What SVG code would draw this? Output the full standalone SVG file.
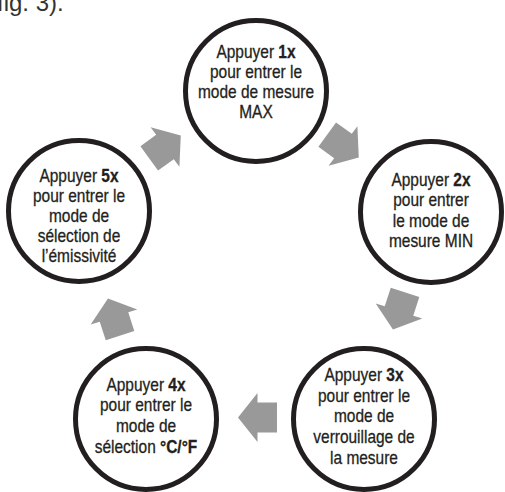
<svg xmlns="http://www.w3.org/2000/svg" xmlns:xlink="http://www.w3.org/1999/xlink" width="505" height="492" viewBox="0 0 505 492">
<style>
  .ring { fill: #ffffff; stroke: #231f20; stroke-width: 5; }
  .lbl { font-family: "Liberation Sans", Arial, sans-serif; font-size: 18px; fill: #231f20; stroke: #231f20; stroke-width: 0.3; text-anchor: middle; }
  .b { font-weight: bold; }
  .arr { fill: #999999; }
  .cap { font-family: "Liberation Sans", Arial, sans-serif; font-size: 24px; fill: #333333; }
</style>
<defs>
  <path id="arrow" d="M-19.5,-15 L0,-15 L0,-24.5 L19.5,0 L0,24.5 L0,15 L-19.5,15 Z"/>
</defs>
<rect width="505" height="492" fill="#ffffff"/>
<text class="cap" x="-3" y="10.5">fig. 3).</text>

<g id="connectors" class="arr">
  <use xlink:href="#arrow" transform="translate(343,146) rotate(36)"/>
  <use xlink:href="#arrow" transform="translate(399,311) rotate(108)"/>
  <use xlink:href="#arrow" transform="translate(257.5,417.5) rotate(180)"/>
  <use xlink:href="#arrow" transform="translate(114,317) rotate(252)"/>
  <use xlink:href="#arrow" transform="translate(165,147) rotate(-36)"/>
</g>

<g id="node1" transform="translate(256,91)">
  <circle class="ring" r="70.5"/>
  <g transform="scale(0.86,1)">
    <text class="lbl" y="-33.5">Appuyer <tspan class="b">1x</tspan></text>
    <text class="lbl" y="-13.3">pour entrer le</text>
    <text class="lbl" y="6.9">mode de mesure</text>
    <text class="lbl" y="27.1">MAX</text>
  </g>
</g>

<g id="node2" transform="translate(431,212)">
  <circle class="ring" r="70.5"/>
  <g transform="scale(0.86,1)">
    <text class="lbl" y="-26.5">Appuyer <tspan class="b">2x</tspan></text>
    <text class="lbl" y="-6">pour entrer</text>
    <text class="lbl" y="14.5">le mode de</text>
    <text class="lbl" y="35">mesure MIN</text>
  </g>
</g>

<g id="node3" transform="translate(364,419)">
  <circle class="ring" r="70.5"/>
  <g transform="scale(0.86,1)">
    <text class="lbl" y="-38">Appuyer <tspan class="b">3x</tspan></text>
    <text class="lbl" y="-17.3">pour entrer le</text>
    <text class="lbl" y="3.4">mode de</text>
    <text class="lbl" y="24.1">verrouillage de</text>
    <text class="lbl" y="44.8">la mesure</text>
  </g>
</g>

<g id="node4" transform="translate(146,419)">
  <circle class="ring" r="70.5"/>
  <g transform="scale(0.86,1)">
    <text class="lbl" y="-28.5">Appuyer <tspan class="b">4x</tspan></text>
    <text class="lbl" y="-7.8">pour entrer le</text>
    <text class="lbl" y="12.9">mode de</text>
    <text class="lbl" y="34">sélection <tspan class="b">°C/°F</tspan></text>
  </g>
</g>

<g id="node5" transform="translate(79,211)">
  <circle class="ring" r="70.5"/>
  <g transform="scale(0.86,1)">
    <text class="lbl" y="-29.5">Appuyer <tspan class="b">5x</tspan></text>
    <text class="lbl" y="-9.3">pour entrer le</text>
    <text class="lbl" y="10.9">mode de</text>
    <text class="lbl" y="31.1">sélection de</text>
    <text class="lbl" y="51.3">l’émissivité</text>
  </g>
</g>
</svg>
